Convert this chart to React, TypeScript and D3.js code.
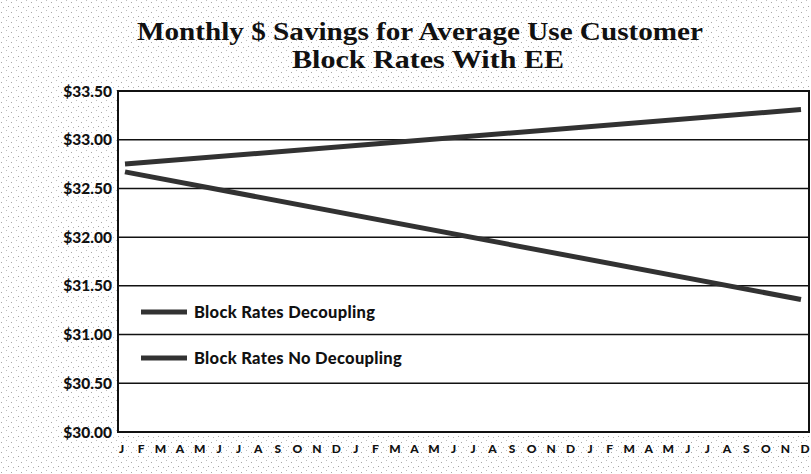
import React from "react";
import * as d3 from "d3";

// Month labels along the bottom axis (three years, Jan–Dec)
const monthLetters = ["J", "F", "M", "A", "M", "J", "J", "A", "S", "O", "N", "D"];
const monthLabels = [...monthLetters, ...monthLetters, ...monthLetters];

// Y-axis tick values (dollars)
const yTicks = [30.0, 30.5, 31.0, 31.5, 32.0, 32.5, 33.0, 33.5];

// Series: month index -> monthly savings ($)
const decouplingSeries = [
  { month: 0, value: 32.67 },
  { month: 35, value: 31.36 },
];
const noDecouplingSeries = [
  { month: 0, value: 32.75 },
  { month: 35, value: 33.31 },
];

const seriesNames = ["Block Rates Decoupling", "Block Rates No Decoupling"];

const W = 811;
const H = 474;
const plot = { left: 118, right: 809, top: 91, bottom: 432 };

export default function App() {
  const x = d3.scaleLinear().domain([0, 35]).range([125, 801]);
  const xLabel = d3.scaleLinear().domain([0, 35]).range([121.5, 805]);
  const y = d3.scaleLinear().domain([30, 33.5]).range([plot.bottom, plot.top]);
  const line = d3
    .line<{ month: number; value: number }>()
    .x((d) => x(d.month))
    .y((d) => y(d.value));

  const labelFont = "Lato, 'Open Sans', sans-serif";
  const titleFont = "'Liberation Serif', 'DejaVu Serif', serif";
  const lineColor = "#323232";

  return (
    <svg
      width={W}
      height={H}
      style={{ position: "absolute", left: 0, top: 0, display: "block" }}
    >
      <defs>
        <pattern id="stipple" width="10" height="10" patternUnits="userSpaceOnUse">
          <rect width="10" height="10" fill="#ffffff" />
          <rect x="1" y="2" width="1" height="1" fill="#a8a8a8" />
          <rect x="6" y="0" width="1" height="1" fill="#bcbcbc" />
          <rect x="8" y="6" width="1" height="1" fill="#a8a8a8" />
          <rect x="3" y="7" width="1" height="1" fill="#b4b4b4" />
        </pattern>
      </defs>
      <rect width={W} height={H} fill="url(#stipple)" />

      {/* Title */}
      <text
        x={420}
        y={40}
        textAnchor="middle"
        fontFamily={titleFont}
        fontWeight="bold"
        fontSize={25}
        textLength={566}
        lengthAdjust="spacingAndGlyphs"
        fill="#111"
      >
        Monthly $ Savings for Average Use Customer
      </text>
      <text
        x={428}
        y={68}
        textAnchor="middle"
        fontFamily={titleFont}
        fontWeight="bold"
        fontSize={25}
        textLength={272}
        lengthAdjust="spacingAndGlyphs"
        fill="#111"
      >
        Block Rates With EE
      </text>

      {/* Plot area */}
      <rect
        x={plot.left}
        y={plot.top}
        width={plot.right - plot.left}
        height={plot.bottom - plot.top}
        fill="#ffffff"
      />

      {/* Horizontal gridlines */}
      {yTicks.map((t) => (
        <line
          key={`g${t}`}
          x1={plot.left}
          x2={plot.right}
          y1={y(t)}
          y2={y(t)}
          stroke="#111"
          strokeWidth={1.5}
        />
      ))}
      <rect
        x={plot.left}
        y={plot.top}
        width={plot.right - plot.left}
        height={plot.bottom - plot.top}
        fill="none"
        stroke="#111"
        strokeWidth={2}
      />

      {/* Y-axis labels */}
      {yTicks.map((t) => (
        <text
          key={`y${t}`}
          x={112}
          y={y(t) + 5.5}
          textAnchor="end"
          fontFamily={labelFont}
          fontWeight={900}
          fontSize={15.5}
          fill="#111"
        >
          {`$${t.toFixed(2)}`}
        </text>
      ))}

      {/* X-axis labels */}
      {monthLabels.map((m, i) => (
        <text
          key={`x${i}`}
          x={xLabel(i)}
          y={453}
          textAnchor="middle"
          fontFamily={labelFont}
          fontWeight={900}
          fontSize={12}
          fill="#111"
        >
          {m}
        </text>
      ))}

      {/* Series lines */}
      <path d={line(decouplingSeries) ?? ""} fill="none" stroke={lineColor} strokeWidth={5} />
      <path d={line(noDecouplingSeries) ?? ""} fill="none" stroke={lineColor} strokeWidth={5} />

      {/* Legend */}
      {seriesNames.map((name, i) => {
        const ly = 312 + i * 46;
        return (
          <g key={name}>
            <line x1={141} x2={187} y1={ly} y2={ly} stroke={lineColor} strokeWidth={5} />
            <text
              x={194}
              y={ly + 6}
              fontFamily={labelFont}
              fontWeight={900}
              fontSize={16.5}
              letterSpacing={0.3}
              fill="#111"
            >
              {name}
            </text>
          </g>
        );
      })}
    </svg>
  );
}
